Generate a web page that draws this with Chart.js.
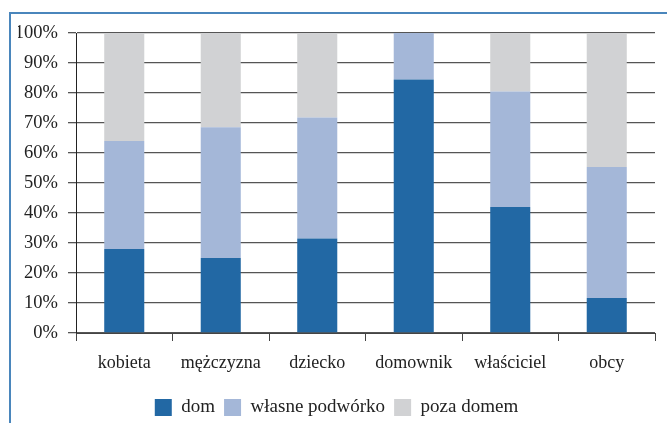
<!DOCTYPE html>
<html>
<head>
<meta charset="utf-8">
<script src="https://cdn.jsdelivr.net/npm/chart.js@4/dist/chart.umd.min.js"></script>
<style>
  html, body { margin: 0; padding: 0; background: #fff; }
  #wrap { position: relative; width: 667px; height: 423px; }
  #frame { position: absolute; left: 9px; top: 12px; right: -4px; bottom: -4px;
           border-top: 2px solid #4a86bc; border-left: 2px solid #4a86bc; }
  canvas { position: absolute; left: 0; top: 0; }
</style>
</head>
<body>
<div id="wrap">
  <div id="frame"></div>
  <canvas id="chart" width="667" height="423"></canvas>
</div>
<script>
const categories = ['kobieta', 'mężczyzna', 'dziecko', 'domownik', 'właściciel', 'obcy'];
const dom = [28, 25, 31.5, 84.5, 42, 11.7];
const podworko = [36, 43.6, 40.3, 15.5, 38.5, 43.6];
const pozaDomem = [36, 31.4, 28.2, 0, 19.5, 44.7];
const yTicks = [0, 10, 20, 30, 40, 50, 60, 70, 80, 90, 100];

Chart.defaults.font.family = '"Liberation Serif", "Times New Roman", serif';
Chart.defaults.font.size = 18;
Chart.defaults.color = '#222';

const ctx = document.getElementById('chart').getContext('2d');
const chart = new Chart(ctx, {
    type: 'bar',
    data: {
        labels: categories,
        datasets: [
            { label: 'dom', data: dom, backgroundColor: '#2268a4' },
            { label: 'własne podwórko', data: podworko, backgroundColor: '#a4b7d8' },
            { label: 'poza domem', data: pozaDomem, backgroundColor: '#d1d2d4' }
        ]
    },
    options: {
        responsive: false,
        animation: false,
        layout: { padding: { left: 18, right: 12, top: 33, bottom: -4 } },
        datasets: { bar: { categoryPercentage: 1, barPercentage: 0.415 } },
        plugins: {
            tooltip: { enabled: false },
            legend: {
                position: 'bottom',
                labels: { boxWidth: 17, boxHeight: 17, padding: 9, color: '#222', font: { size: 19 } }
            }
        },
        scales: {
            x: {
                stacked: true,
                grid: { offset: true, drawOnChartArea: false, color: '#444', tickLength: 8, lineWidth: 1 },
                border: { color: '#444', width: 1 },
                ticks: { padding: 11, color: '#222' },
                afterFit: s => { s.height = 56; }
            },
            y: {
                stacked: true,
                min: 0, max: 100,
                afterBuildTicks: s => { s.ticks = yTicks.map(v => ({ value: v })); },
                afterFit: s => { s.width = 58; },
                grid: { color: '#555', tickLength: 8, lineWidth: 1.3 },
                border: { color: '#222', width: 1 },
                ticks: { padding: 10, color: '#222', font: { size: 18.5 }, callback: v => v + '%' }
            }
        }
    }
});
</script>
</body>
</html>
